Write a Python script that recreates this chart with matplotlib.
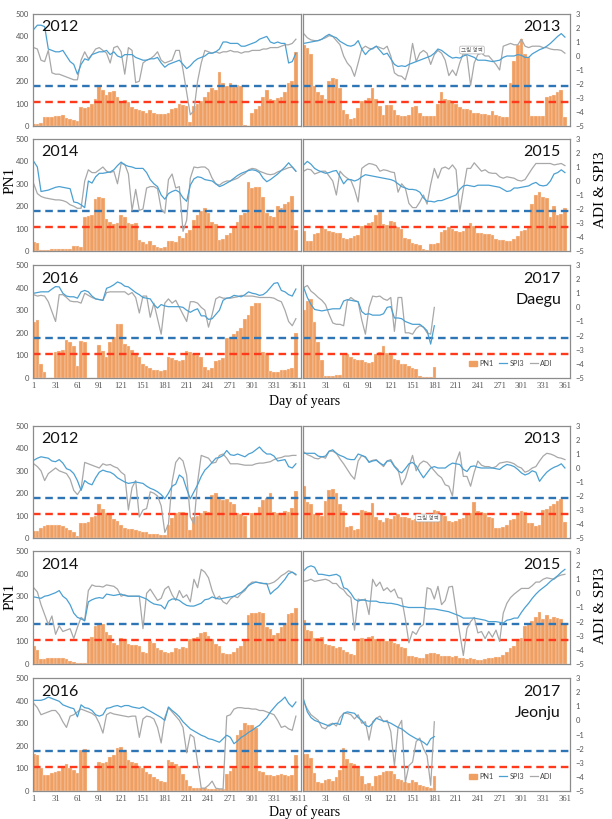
import matplotlib
matplotlib.use("Agg")
import matplotlib.pyplot as plt
from matplotlib.lines import Line2D
from matplotlib.patches import Patch

plt.rcParams['font.family'] = ['Lato', 'DejaVu Sans']

# ---- axes / categories ----
days = list(range(1, 362, 5))          # 5-day steps, full year
days_2017 = list(range(1, 182, 5))     # 2017 data ends at day ~181
day_ticks = list(range(1, 362, 30))
pn1_ticks = [0, 100, 200, 300, 400, 500]
idx_ticks = [-5, -4, -3, -2, -1, 0, 1, 2, 3]
pn1_blue_line = 178
pn1_red_line = 106

# ---- Daegu ----
daegu_2012_pn1 = [10, 10, 12, 40, 40, 42, 45, 45, 50, 35,
                  30, 25, 22, 85, 80, 85, 100, 120, 180, 160,
                  140, 150, 155, 130, 110, 115, 105, 85, 75, 70,
                  65, 60, 70, 60, 55, 55, 55, 60, 75, 80,
                  100, 95, 90, 20, 90, 100, 110, 130, 150, 170,
                  160, 240, 190, 180, 190, 175, 185, 180, 5, 0,
                  60, 75, 90, 130, 160, 120, 115, 125, 130, 150,
                  190, 200, 330]
daegu_2012_spi3 = [1.9, 2.2, 2.2, 2.1, 0.5, 0.4, 0.3, 0.3, 0.4, 0.0,
                   -0.4, -0.6, -1.3, -0.6, -0.2, -0.3, 0.1, 0.2, 0.3, 0.3,
                   0.4, 0.1, 0.3, 0.0, -0.1, 0.1, 0.1, 0.1, -0.1, -0.2,
                   -0.3, -0.3, -0.2, -0.2, -0.1, -0.5, -0.8, -0.6, -0.5, -0.4,
                   -0.3, -0.6, -0.9, -0.7, -0.4, -0.2, -0.1, 0.0, 0.2, 0.2,
                   0.3, 0.5, 1.0, 1.0, 0.9, 0.9, 0.9, 0.7, 0.7, 0.8,
                   0.9, 1.0, 1.2, 1.3, 1.4, 1.0, 0.9, 1.0, 0.9, 0.9,
                   -0.5, -0.4, 0.2]
daegu_2012_adi = [0.6, 0.5, -0.3, -0.4, 0.4, -1.2, -1.3, -1.3, -1.4, -1.5,
                  -1.6, -1.7, -1.7, -0.3, 0.3, -0.2, 0.1, 0.5, 0.6, 0.4,
                  0.2, -0.5, 0.6, 0.7, 0.3, -1.3, 0.6, 0.4, -1.9, -1.8,
                  -0.5, -0.3, -0.2, 0.0, 0.3, -0.3, -0.5, -0.4, -0.3, 0.4,
                  0.4, -1.0, -2.6, -4.2, -3.9, -1.8, -0.5, 0.4, 0.3, 0.2,
                  0.3, 0.2, 0.3, 0.3, 0.4, 0.3, 0.3, 0.2, 0.3, 0.3,
                  0.4, 0.4, 0.4, 0.5, 0.5, 0.6, 0.6, 0.6, 0.7, 0.8,
                  0.8, 0.9, 1.2]

daegu_2013_pn1 = [360, 350, 320, 180, 150, 140, 120, 200, 215, 210,
                  170, 70, 55, 30, 35, 80, 110, 115, 125, 170,
                  120, 90, 50, 95, 95, 70, 50, 45, 45, 50,
                  85, 90, 60, 45, 45, 45, 45, 100, 150, 120,
                  115, 110, 100, 85, 75, 75, 70, 60, 60, 55,
                  55, 50, 65, 50, 45, 40, 40, 190, 290, 360,
                  390, 320, 310, 45, 45, 45, 45, 130, 135, 140,
                  150, 160, 40]
daegu_2013_spi3 = [0.9, 0.95, 1.0, 1.05, 1.1, 1.2, 1.4, 1.55, 1.4, 1.3,
                   1.05, 0.9, 0.75, 0.7, 0.8, 1.1, 0.5, 0.1, 0.4, 0.55,
                   0.7, 0.4, 0.1, 0.2, -0.2, -0.6, -0.75, -0.7, -0.75, -0.6,
                   -0.5, -0.4, -0.3, -0.2, -0.1, 0.0, 0.2, 0.5, 0.4, 0.2,
                   0.0, -0.15, -0.1, -0.15, 0.0, 0.1, 0.0, -0.1, -0.3, -0.3,
                   -0.3, -0.35, -0.4, -0.35, -0.3, -0.1, 0.0, 0.0, 0.0, 0.1,
                   0.05, -0.1, -0.1, 0.15, 0.3, 0.45, 0.55, 0.7, 0.9, 1.15,
                   1.4, 1.6, 1.35]
daegu_2013_adi = [1.6, 1.3, 1.15, 1.1, 1.1, 1.2, 1.3, 1.45, 1.4, 1.1,
                  0.8, 0.0, -0.5, -0.8, -1.45, -0.5, 0.5, 0.7, 0.55, 0.5,
                  0.7, 0.6, 0.5, 0.7, 0.0, -1.2, -1.4, -1.45, -1.7, -0.8,
                  0.9, -0.4, 0.2, 0.4, 0.2, -0.6, 0.1, 0.4, 0.2, -0.3,
                  -1.4, -1.0, -1.4, -0.5, 0.2, 0.0, -2.1, -0.5, 0.1, 0.2,
                  0.0, 0.0, -0.3, -0.6, -1.0, 0.7, 0.8, 0.9, 0.8, 0.8,
                  1.2, 0.7, 0.6, 0.7, 0.7, 0.7, 0.6, 0.6, 0.5, 0.45,
                  0.45, 0.4, 0.2]

daegu_2014_pn1 = [40, 35, 5, 5, 5, 8, 8, 8, 8, 8,
                  10, 22, 22, 20, 150, 155, 160, 230, 240, 235,
                  145, 130, 120, 125, 160, 150, 125, 120, 125, 50,
                  40, 30, 45, 25, 20, 15, 20, 45, 45, 40,
                  65, 60, 80, 95, 140, 160, 180, 190, 170, 130,
                  120, 50, 55, 70, 80, 110, 130, 160, 170, 310,
                  280, 285, 285, 240, 170, 155, 150, 200, 190, 210,
                  220, 245, 95]
daegu_2014_spi3 = [1.4, 1.0, -0.75, -0.7, -0.65, -0.55, -0.45, -0.4, -0.45, -0.5,
                   -0.55, -1.5, -1.55, -1.7, -1.9, 0.0, -0.15, 0.3, 0.55, 0.55,
                   0.6, 0.65, 0.8, 1.1, 1.35, 1.15, 1.05, 1.0, 0.9, 0.9,
                   0.9, 0.6, 0.1, -0.2, -0.4, -1.0, -1.3, -0.9, -0.75, -0.65,
                   -0.8, -1.2, -1.45, -0.3, 0.15, 0.3, 0.25, 0.1, 0.05, 0.0,
                   -0.2, -0.4, -0.3, -0.15, 0.0, 0.2, 0.4, 0.55, 0.65, 0.75,
                   0.8, 0.75, 0.6, 0.2, -0.05, 0.1, 0.3, 0.5, 0.75, 1.0,
                   1.3, 1.0, 0.7]
daegu_2014_adi = [-0.2, -0.9, -1.1, -1.2, -1.25, -1.3, -1.35, -1.35, -1.4, -1.5,
                  -1.7, -1.8, -1.95, -1.95, 0.0, 0.8, 0.6, 0.6, 0.8, 1.0,
                  0.7, 0.6, 0.7, -0.2, 1.25, 1.2, 0.5, -2.1, -0.6, -2.1,
                  -2.0, -0.5, -0.4, -0.4, -0.55, -2.0, -2.3, 0.1, 0.5, -0.5,
                  -0.4, -3.6, -2.8, 0.2, 1.0, 0.95, 1.0, 1.0, 0.8, 0.2,
                  -0.2, -0.3, -0.1, 0.0, 0.0, 0.1, 0.2, 0.4, 0.55, 0.8,
                  0.9, 0.85, 0.7, 0.6, 0.5, 0.45, 0.5, 0.65, 0.75, 0.85,
                  0.95, 1.0, 0.7]

daegu_2015_pn1 = [90, 45, 45, 75, 80, 110, 100, 90, 85, 80,
                  80, 60, 55, 60, 65, 70, 110, 115, 125, 130,
                  160, 175, 120, 115, 135, 130, 105, 100, 60, 55,
                  35, 30, 25, 8, 5, 30, 30, 35, 85, 95,
                  105, 100, 90, 85, 90, 110, 125, 110, 80, 80,
                  75, 75, 70, 55, 50, 50, 45, 45, 55, 65,
                  90, 95, 105, 210, 250, 265, 240, 235, 150, 200,
                  160, 165, 190]
daegu_2015_spi3 = [1.15, 1.4, 1.2, 0.9, 0.75, 0.65, 0.55, 0.6, 0.7, 0.75,
                   0.3, -0.2, 0.1, 0.1, 0.0, 0.1, 0.3, 0.45, 0.4, 0.35,
                   0.3, 0.25, 0.2, 0.15, 0.1, 0.0, -0.2, -0.4, -0.5, -0.6,
                   -0.6, -0.65, -0.8, -1.2, -1.45, -1.45, -1.5, -1.4, -1.4, -1.3,
                   -1.2, -1.1, -1.0, -0.6, -0.35, -0.3, -0.35, -0.4, -0.3, -0.3,
                   -0.3, -0.3, -0.35, -0.4, -0.45, -0.6, -0.75, -0.7, -0.5, -0.5,
                   -0.45, -0.4, -0.35, -0.2, -0.1, -0.3, -0.35, -0.3, 0.0, 0.5,
                   0.6, 0.8, 0.6]
daegu_2015_adi = [0.7, 0.85, 0.8, 0.5, 0.6, 0.7, 0.7, 0.35, 0.0, -1.0,
                  0.7, 0.4, 0.2, 0.05, -0.6, -1.5, 0.9, 1.1, 1.25, 1.2,
                  1.1, 0.7, 0.8, 0.75, 0.65, 0.6, -0.8, -0.2, -0.5, -1.6,
                  -1.9, -1.9, -1.5, -1.0, -1.65, -0.25, 0.9, 0.2, 0.9, 1.0,
                  0.85, 1.15, 0.8, -2.2, -0.6, 0.9, 0.9, 1.3, 1.0, 0.7,
                  0.8, 0.6, 0.55, 0.55, 0.3, 0.2, 0.3, 0.25, 0.2, 0.05,
                  0.0, 0.1, 0.5, 0.9, 1.25, 1.25, 1.25, 1.25, 1.25, 1.15,
                  1.2, 1.25, 1.1]

daegu_2016_pn1 = [250, 255, 60, 25, 0, 0, 115, 120, 125, 170,
                  160, 140, 55, 165, 160, 0, 0, 0, 145, 120,
                  95, 160, 180, 240, 240, 150, 140, 125, 110, 95,
                  60, 55, 45, 35, 35, 30, 35, 95, 90, 80,
                  75, 80, 120, 115, 105, 100, 95, 50, 35, 45,
                  75, 80, 90, 175, 180, 195, 210, 220, 260, 280,
                  320, 330, 330, 115, 110, 30, 25, 25, 35, 35,
                  40, 45, 200]
daegu_2016_spi3 = [1.0, 1.05, 1.1, 1.1, 1.1, 1.3, 1.47, 1.45, 1.0, 0.8,
                   0.75, 0.75, 0.65, 1.1, 1.2, 1.1, 0.8, 0.6, 0.55, 0.5,
                   1.35, 1.45, 1.6, 1.8, 1.7, 1.5, 1.45, 1.25, 1.05, 0.9,
                   0.7, 0.65, 0.6, 0.2, -0.05, 0.2, 0.1, 0.05, 0.05, 0.05,
                   0.05, 0.0, -0.2, -0.35, -0.2, -0.1, -0.6, -0.6, -0.85, -0.8,
                   -0.5, -0.2, 0.5, 0.65, 0.7, 0.85, 0.8, 0.75, 0.9, 1.1,
                   1.0, 0.95, 0.85, 0.9, 1.1, 1.4, 1.7, 1.75, 1.2, 1.1,
                   0.9, 0.8, 1.3]
daegu_2016_adi = [0.9, 0.8, 0.85, 0.8, 0.4, -0.3, -1.0, 0.9, 0.9, 0.7,
                  0.45, 0.4, 0.4, 0.3, 1.0, 0.85, 0.7, 0.6, 0.55, 0.5,
                  1.05, 1.1, 1.1, 1.1, 1.1, 1.1, 0.9, 1.05, 0.7, -0.4,
                  0.8, 0.8, -0.7, 0.3, -0.8, -1.9, 0.3, 0.6, 0.3, 0.5,
                  0.0, -0.5, -1.0, 0.4, 0.4, 0.3, 0.0, -0.2, -1.4, -0.5,
                  0.6, 0.75, 0.65, 0.65, 0.65, 0.7, 0.75, 0.85, 0.8, 0.8,
                  0.8, 0.75, 0.7, 0.7, 0.7, 0.7, 0.65, 0.5, 0.4, -0.2,
                  -1.0, -1.3, -0.8]

daegu_2017_pn1 = [300, 340, 350, 250, 160, 80, 8, 8, 8, 15,
                  15, 100, 105, 95, 85, 80, 80, 70, 65, 70,
                  105, 115, 140, 110, 100, 85, 80, 60, 60, 55,
                  45, 40, 8, 5, 5, 5, 50]
daegu_2017_spi3 = [1.4, 0.7, 0.2, -0.15, -0.2, -0.25, -0.2, -0.15, -0.1, -0.1,
                   -0.1, 0.45, 0.55, 0.5, 0.45, 0.4, -0.3, -0.5, -0.45, -0.55,
                   -0.55, -0.55, -0.45, 0.0, 0.05, -0.75, -0.75, -0.8, -1.0, -1.1,
                   -1.2, -1.2, -1.2, -1.4, -1.65, -2.6, -1.3]
daegu_2017_adi = [1.4, 1.55, 1.15, 0.95, 0.7, 0.5, 0.2, -0.5, -1.1, -1.2,
                  -1.2, -1.3, 0.45, 0.7, 0.5, 0.4, -0.9, -1.9, 0.0, 0.8,
                  0.75, 0.8, 0.6, 0.5, 0.7, -1.7, 0.7, 0.7, -1.8, -1.8,
                  -1.9, -1.5, -1.3, -1.4, -1.8, -1.9, 0.0]

# ---- Jeonju ----
jeonju_2012_pn1 = [30, 30, 45, 55, 60, 60, 60, 60, 55, 45,
                   35, 25, 10, 65, 65, 70, 95, 100, 150, 130,
                   110, 105, 85, 75, 60, 45, 40, 40, 35, 30,
                   25, 25, 20, 20, 20, 15, 15, 60, 90, 110,
                   115, 115, 110, 35, 95, 100, 110, 120, 115, 190,
                   200, 175, 170, 175, 160, 150, 110, 105, 100, 0,
                   110, 110, 140, 170, 180, 200, 115, 110, 110, 120,
                   115, 135, 210]
jeonju_2012_spi3 = [0.55, 0.7, 0.8, 0.75, 0.7, 0.5, 0.45, 0.6, 0.35, -0.05,
                    -0.15, -0.4, -0.9, -1.6, -0.9, -1.1, -1.2, -0.7, -0.3, -0.15,
                    -0.25, -0.3, -0.45, -0.7, -0.85, -1.0, -1.1, -1.05, -1.0, -1.05,
                    -1.1, -1.3, -1.45, -1.55, -1.7, -1.9, -2.2, -1.8, -1.3, -1.15,
                    -0.5, -0.7, -1.5, -2.2, -1.7, -1.2, -0.6, -0.15, 0.1, 0.4,
                    0.7, 0.75, 0.9, 1.25, 0.95, 0.9, 1.0, 0.9, 0.8, 1.0,
                    1.1, 1.3, 1.5, 1.2, 1.0, 1.0, 0.85, 0.5, 0.55, 0.6,
                    0.1, 0.0, 0.3]
jeonju_2012_adi = [0.3, 0.1, -0.2, -0.9, -0.4, -0.2, 0.0, -0.2, -0.3, -0.4,
                   -0.8, -1.6, -1.9, -1.5, 0.4, 0.3, 0.2, 0.1, 0.0, 0.3,
                   0.2, 0.25, 0.1, 0.0, -0.3, -0.5, -3.0, -1.4, -0.9, -3.5,
                   -3.0, -2.9, -1.7, -1.8, -2.0, -2.7, -4.6, -4.0, -1.0, 0.4,
                   0.75, 0.5, -0.5, -3.5, -4.0, -1.0, 0.9, 0.8, 0.7, 0.35,
                   0.4, 0.9, 1.0, 0.7, 0.3, 0.3, 0.3, 0.25, 0.2, 0.2,
                   0.2, 0.3, 0.35, 0.35, 0.4, 0.45, 0.6, 0.7, 0.75, 0.85,
                   0.85, 0.9, 0.9]

jeonju_2013_pn1 = [230, 160, 150, 105, 110, 100, 165, 215, 220, 200,
                   150, 120, 50, 55, 35, 40, 125, 120, 115, 155,
                   95, 80, 70, 90, 85, 100, 105, 95, 95, 90,
                   80, 85, 90, 85, 90, 95, 125, 120, 105, 100,
                   75, 70, 75, 85, 90, 105, 110, 160, 120, 115,
                   110, 95, 90, 45, 45, 50, 60, 80, 85, 110,
                   120, 115, 65, 65, 55, 60, 125, 130, 145, 150,
                   165, 175, 70]
jeonju_2013_spi3 = [1.05, 1.05, 1.05, 1.05, 0.85, 0.8, 0.85, 1.2, 1.3, 1.05,
                    0.9, 0.8, 0.65, 0.6, 0.6, 1.0, 0.9, 0.8, 0.4, 0.5,
                    0.55, 0.35, 0.2, 0.5, 0.5, 0.1, -0.2, -0.35, -0.05, 0.3,
                    0.4, 0.15, -0.3, -0.7, -0.35, 0.0, 0.1, 0.0, 0.0, 0.0,
                    0.2, 0.35, 0.3, 0.25, -0.1, -0.25, 0.1, 0.15, 0.05, 0.0,
                    0.0, 0.0, 0.0, -0.05, -0.1, 0.1, 0.25, 0.2, 0.1, -0.1,
                    -0.35, -0.5, -0.4, -0.2, -0.3, -0.95, -0.6, -0.3, -0.1, 0.05,
                    0.15, 0.3, 0.0]
jeonju_2013_adi = [1.15, 0.95, 0.85, 0.7, 0.65, 0.8, 0.7, 1.2, 1.2, 1.05,
                   0.65, 0.3, -0.1, -0.5, -0.8, 0.5, 0.9, 0.75, 0.45, 0.55,
                   0.6, 0.35, 0.1, 0.5, 0.6, 0.15, -0.1, -1.2, -0.75, 0.1,
                   0.9, -0.2, 0.3, 0.5, 0.4, 0.1, -0.2, -0.5, -0.7, -1.2,
                   -1.3, -2.0, 0.45, 1.15, -0.6, -0.6, -1.3, -0.3, 0.5, 0.2,
                   0.1, 0.1, 0.0, 0.1, 0.35, 0.4, 0.45, 0.4, 0.3, 0.1,
                   0.0, -0.3, -0.2, 0.0, 0.1, 0.5, 0.85, 1.05, 1.0, 0.9,
                   0.75, 0.7, 0.6]

jeonju_2014_pn1 = [80, 60, 20, 20, 25, 25, 25, 25, 25, 22,
                   12, 10, 5, 4, 5, 110, 120, 170, 175, 175,
                   140, 130, 95, 85, 115, 110, 90, 85, 85, 80,
                   55, 50, 100, 95, 70, 60, 55, 50, 55, 70,
                   65, 75, 70, 110, 115, 120, 135, 140, 125, 110,
                   90, 80, 50, 45, 45, 55, 70, 80, 110, 215,
                   225, 225, 230, 225, 165, 155, 130, 135, 165, 180,
                   220, 225, 250]
jeonju_2014_spi3 = [-0.25, -0.3, -0.35, -0.2, -0.15, -0.05, 0.05, 0.2, -0.2, -0.4,
                    -0.8, -1.4, -1.7, -1.8, -1.95, -0.6, -0.45, -0.35, -0.3, -0.35,
                    -0.05, -0.1, -0.15, -0.1, -0.05, -0.15, -0.2, -0.2, -0.2, -0.2,
                    -0.3, -0.4, -0.6, -0.75, -0.8, -0.85, -1.1, -0.55, -0.4, -0.4,
                    -0.5, -0.7, -0.85, -0.9, -0.9, -0.8, -0.7, -0.45, -0.4, -0.25,
                    -0.35, -0.4, -0.35, -0.3, -0.25, -0.2, -0.05, 0.07, 0.3, 0.55,
                    0.7, 0.8, 0.75, 0.7, 0.7, -0.05, 0.2, 0.4, 0.7, 1.0,
                    1.4, 1.5, 1.35]
jeonju_2014_adi = [0.4, 0.1, -0.8, -1.5, -2.2, -1.6, -2.9, -2.3, -2.7, -2.6,
                   -2.5, -3.2, -2.4, -1.7, -1.9, 0.2, 0.6, 0.5, 0.5, 0.45,
                   0.6, 0.55, 0.5, 0.3, -0.2, -0.1, -0.2, -0.2, -0.2, -0.2,
                   -2.5, 0.0, 0.3, -0.1, -0.5, -0.35, 0.3, 0.5, -0.1, -0.5,
                   0.2, -0.3, -0.1, -0.6, 1.0, 0.4, 1.7, 1.5, 1.1, 0.2,
                   -0.4, -0.2, -0.6, -0.75, -0.4, -0.2, -0.3, 0.0, 0.2, 0.6,
                   0.8, 0.8, 0.75, 0.7, 0.65, 0.7, 0.8, 1.0, 1.25, 1.4,
                   1.6, 1.5, 1.3]

jeonju_2015_pn1 = [195, 150, 145, 115, 115, 120, 90, 85, 80, 70,
                   75, 60, 55, 45, 40, 110, 115, 110, 120, 125,
                   110, 105, 110, 100, 100, 95, 90, 75, 70, 35,
                   35, 30, 28, 25, 45, 50, 50, 45, 35, 35,
                   35, 30, 35, 25, 25, 22, 25, 20, 18, 18,
                   20, 25, 28, 30, 30, 40, 55, 70, 80, 110,
                   115, 170, 180, 190, 210, 230, 200, 215, 200, 210,
                   205, 200, 180]
jeonju_2015_spi3 = [1.6, 1.85, 1.95, 1.85, 1.35, 1.35, 1.3, 1.25, 1.3, 1.35,
                    1.2, 0.4, 0.3, 0.0, -0.4, -0.55, -0.45, -0.5, -0.55, -0.55,
                    -0.55, -0.65, -0.65, -0.7, -0.7, -0.75, -0.8, -0.9, -0.95, -1.0,
                    -1.0, -1.0, -1.0, -1.0, -1.1, -1.1, -1.1, -1.15, -1.2, -1.25,
                    -1.3, -1.4, -1.5, -1.6, -1.75, -1.75, -1.75, -1.75, -1.8, -1.85,
                    -1.9, -2.0, -2.0, -2.0, -2.05, -2.1, -1.9, -1.85, -1.75, -1.75,
                    -1.35, -1.0, -0.7, -0.35, -0.05, 0.2, 0.4, 0.6, 0.85, 1.05,
                    1.25, 1.5, 1.7]
jeonju_2015_adi = [0.85, 0.9, 1.0, 0.85, 0.9, 0.95, 1.0, 0.9, 0.7, 0.7,
                   0.4, 0.25, -0.1, -0.3, -2.6, -0.4, -0.5, -0.4, -1.5, 1.0,
                   0.5, 0.8, 0.2, 0.4, 0.1, 0.3, -0.3, -0.35, -1.8, -3.5,
                   -2.7, -2.9, -2.4, -2.2, 0.4, 0.3, -0.4, 0.5, -0.8, -0.5,
                   0.45, 0.5, -1.2, -2.8, -4.4, -2.5, -2.0, -1.7, -2.8, -2.7,
                   -3.2, -2.7, -3.1, -2.6, -3.4, -1.4, -0.7, -0.3, -0.05, 0.15,
                   0.35, 0.35, 0.35, 0.55, 0.8, 0.8, 1.0, 1.1, 1.05, 1.0,
                   1.2, 1.3, 1.35]

jeonju_2016_pn1 = [165, 160, 100, 70, 70, 80, 85, 90, 110, 120,
                   100, 95, 80, 180, 185, 0, 0, 0, 130, 125,
                   130, 150, 160, 190, 195, 180, 135, 130, 125, 110,
                   100, 85, 75, 60, 55, 45, 40, 135, 130, 120,
                   110, 75, 50, 20, 15, 15, 15, 12, 10, 10,
                   10, 8, 8, 75, 90, 100, 250, 270, 300, 290,
                   290, 280, 90, 85, 70, 70, 65, 70, 75, 70,
                   65, 70, 160]
jeonju_2016_spi3 = [1.42, 1.42, 1.42, 1.5, 1.65, 1.55, 1.45, 1.35, 1.1, 1.0,
                    0.9, 0.83, 0.25, 1.1, 0.9, 0.85, 0.7, 0.4, 0.3, 0.4,
                    0.85, 0.9, 1.0, 1.05, 0.95, 1.05, 1.05, 0.95, 0.9, 0.85,
                    0.95, 0.8, 0.65, 0.5, 0.35, 0.2, 0.0, 0.95, 0.7, 0.5,
                    0.25, -0.1, -0.35, -0.6, -0.75, -0.9, -1.05, -1.15, -1.3, -1.35,
                    -1.45, -1.55, -1.3, -1.05, -1.2, -1.65, -1.45, -1.2, -1.05, -0.85,
                    -0.7, -0.5, -0.35, -0.05, 0.2, 0.6, 0.9, 1.2, 1.4, 1.65,
                    1.2, 0.95, 1.3]
jeonju_2016_adi = [1.2, 0.9, 0.4, 0.5, 0.6, 0.7, 0.7, 0.4, -0.1, -0.5,
                   0.3, 0.4, 0.6, 0.8, 0.7, 0.6, 0.5, 0.3, -0.2, -0.9,
                   0.4, 0.55, 0.45, 0.4, 0.35, 0.3, 0.25, 0.3, 0.3, -1.2,
                   0.1, 0.3, 0.25, 0.1, -0.5, -1.6, 0.2, 0.9, 0.6, 0.3,
                   0.0, -0.5, -2.3, -1.0, -1.2, -3.0, -4.8, -4.8, -4.6, -4.3,
                   -4.8, -4.85, -4.85, 0.3, 0.4, 0.8, 0.9, 0.9, 0.85, 0.85,
                   0.8, 0.8, 0.7, 0.7, 0.6, 0.5, 0.4, 0.0, -0.5, -0.4,
                   -0.6, -0.7, 0.3]

jeonju_2017_pn1 = [165, 165, 145, 80, 40, 35, 50, 55, 45, 60,
                   95, 190, 140, 125, 120, 110, 65, 30, 35, 20,
                   65, 70, 85, 90, 90, 75, 55, 50, 40, 35,
                   50, 40, 25, 20, 18, 15, 65]
jeonju_2017_spi3 = [1.45, 0.6, 0.2, 0.0, -0.1, -0.2, -0.3, -0.4, -0.25, -0.2,
                    -0.3, 0.5, 0.6, 0.55, 0.5, 0.2, 0.0, -0.35, -0.45, -0.2,
                    0.15, 0.05, -0.05, -0.1, -0.2, -0.35, -0.5, -0.6, -0.8, -1.0,
                    -1.15, -1.3, -1.4, -1.55, -1.75, -1.3, -1.15]
jeonju_2017_adi = [1.3, 0.8, 0.4, 0.2, 0.0, -0.5, -0.6, -0.3, -0.2, -0.4,
                   0.2, 0.5, 0.5, 0.4, 0.1, 0.4, -0.2, -0.1, -1.4, -0.1,
                   0.15, 0.3, -0.1, 0.0, -0.8, -3.2, -0.5, 0.0, -4.4, -3.2,
                   -2.95, -1.5, -1.25, -2.0, -2.5, -4.6, -0.1]

years = [2012, 2013, 2014, 2015, 2016, 2017]
stations = ['Daegu', 'Jeonju']
series = {
    'Daegu': [(daegu_2012_pn1, daegu_2012_spi3, daegu_2012_adi),
              (daegu_2013_pn1, daegu_2013_spi3, daegu_2013_adi),
              (daegu_2014_pn1, daegu_2014_spi3, daegu_2014_adi),
              (daegu_2015_pn1, daegu_2015_spi3, daegu_2015_adi),
              (daegu_2016_pn1, daegu_2016_spi3, daegu_2016_adi),
              (daegu_2017_pn1, daegu_2017_spi3, daegu_2017_adi)],
    'Jeonju': [(jeonju_2012_pn1, jeonju_2012_spi3, jeonju_2012_adi),
               (jeonju_2013_pn1, jeonju_2013_spi3, jeonju_2013_adi),
               (jeonju_2014_pn1, jeonju_2014_spi3, jeonju_2014_adi),
               (jeonju_2015_pn1, jeonju_2015_spi3, jeonju_2015_adi),
               (jeonju_2016_pn1, jeonju_2016_spi3, jeonju_2016_adi),
               (jeonju_2017_pn1, jeonju_2017_spi3, jeonju_2017_adi)],
}

BAR = '#EF9F62'
SPI = '#4BA0D2'
ADI = '#A8A8A8'
FRAME = '#8C8C8C'
TICK = '#555555'

W, H = 612, 819
fig = plt.figure(figsize=(W / 100, H / 100), dpi=100)


def rect(x0, y0, x1, y1):
    return [x0 / W, 1 - y1 / H, (x1 - x0) / W, (y1 - y0) / H]


def panel(r, year, data, right, bottom):
    pn1, spi3, adi = data
    x = days if len(pn1) == len(days) else days_2017
    ax = fig.add_axes(r)
    ax.bar(x, pn1, width=5, color=BAR, edgecolor='#FCE9DC', linewidth=0.25)
    ax.axhline(pn1_blue_line, color='#2E75B6', lw=1.7, dashes=(3.2, 2.0))
    ax.axhline(pn1_red_line, color='#FF3A1C', lw=1.7, dashes=(3.2, 2.0))
    ax.set_xlim(0, 368)
    ax.set_ylim(0, 500)
    ax.set_xticks(day_ticks)
    ax.set_yticks(pn1_ticks)
    ax.tick_params(length=0, labelsize=5.5, colors=TICK, pad=3)
    if not bottom:
        ax.set_xticklabels([])
    else:
        for t in ax.get_xticklabels():
            t.set_fontfamily('Liberation Serif')
            t.set_fontsize(6.2)
    if right:
        ax.set_yticklabels([])
    for s in ax.spines.values():
        s.set_visible(False)

    ax2 = ax.twinx()
    ax2.plot(x, adi, color=ADI, lw=0.9)
    ax2.plot(x, spi3, color=SPI, lw=0.9)
    ax2.set_ylim(-5, 3)
    ax2.set_yticks(idx_ticks)
    ax2.tick_params(length=0, labelsize=5.5, colors=TICK, pad=4)
    if not right:
        ax2.set_yticklabels([])
    for s in ax2.spines.values():
        s.set_color(FRAME)
        s.set_linewidth(0.9)

    if right:
        ax2.text(0.966, 0.88, str(year), transform=ax2.transAxes,
                 ha='right', va='center', fontsize=11.5, color='#111111')
    else:
        ax2.text(0.03, 0.88, str(year), transform=ax2.transAxes,
                 ha='left', va='center', fontsize=11.5, color='#111111')
    return ax, ax2


rows_px = {
    'Daegu': [(14, 126), (139, 251), (265, 378)],
    'Jeonju': [(426, 538), (551, 664), (678, 791)],
}
cols_px = [(33, 301), (303, 570)]

for st in stations:
    for i, yr in enumerate(years):
        row, col = divmod(i, 2)
        y0, y1 = rows_px[st][row]
        x0, x1 = cols_px[col]
        ax, ax2 = panel(rect(x0, y0, x1, y1), yr, series[st][i],
                        right=(col == 1), bottom=(row == 2))
        if yr == 2017:
            ax2.text(0.966, 0.69, st, transform=ax2.transAxes,
                     ha='right', va='center', fontsize=11.5, color='#111111')
            handles = [Patch(color=BAR),
                       Line2D([], [], color=SPI, lw=0.9),
                       Line2D([], [], color=ADI, lw=0.9)]
            ax2.legend(handles, ['PN1', 'SPI3', 'ADI'], loc='lower right',
                       bbox_to_anchor=(0.96, 0.04), ncol=3, frameon=False,
                       fontsize=5.3, handlelength=1.1, handleheight=0.6,
                       handletextpad=0.3, columnspacing=0.8,
                       labelcolor='#444444')

# axis titles
serif = 'Liberation Serif'
for yc, yl in [(180, 401), (596, 812)]:
    fig.text(10 / W, 1 - yc / H, 'PN1', rotation=90, ha='center', va='center',
             family=serif, fontsize=11)
    fig.text(601 / W, 1 - (yc + 10) / H, 'ADI & SPI3', rotation=90,
             ha='center', va='center', family=serif, fontsize=11)
    fig.text(305 / W, 1 - yl / H, 'Day of years', ha='center', va='center',
             family=serif, fontsize=10)

# stray chart-area tooltip boxes seen in the original
for tx, ty in [(472, 50), (428, 518)]:
    fig.text(tx / W, 1 - ty / H, '그림 영역', ha='center', va='center',
             fontsize=4, color='#666666', family=['Noto Sans CJK KR', 'DejaVu Sans'],
             bbox=dict(boxstyle='round,pad=0.25', fc='white', ec='#B0B0B0', lw=0.5))

fig.savefig('out.png', dpi=100)
